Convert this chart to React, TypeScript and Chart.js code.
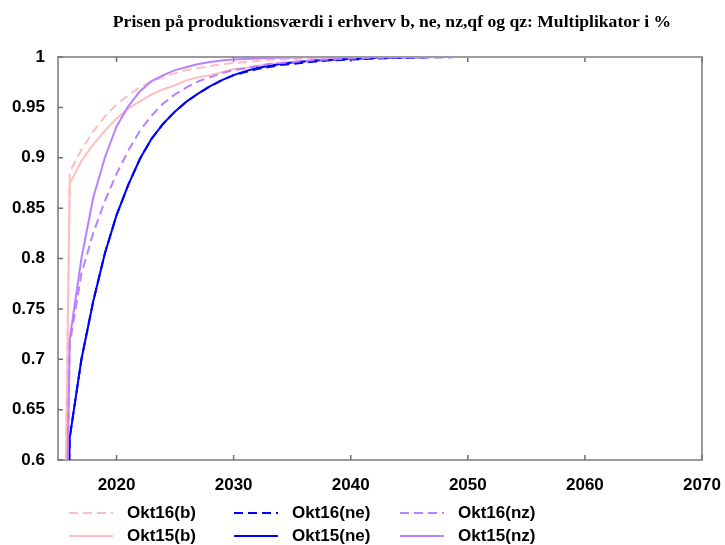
import { useEffect, useRef } from "react";
import { Chart, registerables } from "chart.js";

Chart.register(...registerables);

const titleText =
  "Prisen på produktionsværdi i erhverv b, ne, nz,qf og qz: Multiplikator i %";

const years = [
  2015, 2016, 2017, 2018, 2019, 2020, 2021, 2022, 2023, 2024, 2025, 2026, 2027,
  2028, 2029, 2030, 2031, 2032, 2033, 2034, 2035, 2036, 2037, 2038, 2039, 2040,
  2041, 2042, 2043, 2044, 2045, 2046, 2047, 2048, 2049, 2050, 2051, 2052, 2053,
  2054, 2055, 2056, 2057, 2058, 2059, 2060, 2061, 2062, 2063, 2064, 2065, 2066,
  2067, 2068, 2069, 2070,
];

const okt16b = [
  0, 0.886, 0.908, 0.926, 0.941, 0.953, 0.962, 0.97, 0.976, 0.98, 0.984, 0.987,
  0.989, 0.991, 0.993, 0.994, 0.995, 0.996, 0.997, 0.9975, 0.998, 0.9985,
  0.9988, 0.999, 0.9993, 0.9995, 0.9996, 0.9997, 0.9998, 0.9999, 1, 1, 1, 1, 1,
  1, 1, 1, 1, 1, 1, 1, 1, 1, 1, 1, 1, 1, 1, 1, 1, 1, 1, 1, 1, 1,
];

const okt16ne = [
  0, 0.622, 0.7, 0.757, 0.805, 0.843, 0.873, 0.899, 0.919, 0.934, 0.946, 0.956,
  0.964, 0.971, 0.977, 0.982, 0.985, 0.988, 0.99, 0.992, 0.993, 0.9945,
  0.9955, 0.9965, 0.997, 0.9975, 0.998, 0.9985, 0.9988, 0.999, 0.9993, 0.9995,
  0.9997, 0.9998, 0.9999, 1, 1, 1, 1, 1, 1, 1, 1, 1, 1, 1, 1, 1, 1, 1, 1, 1, 1,
  1, 1, 1,
];

const okt16nz = [
  0, 0.715, 0.785, 0.825, 0.857, 0.884, 0.907, 0.927, 0.942, 0.954, 0.963,
  0.97, 0.976, 0.98, 0.984, 0.987, 0.989, 0.991, 0.993, 0.994, 0.995, 0.996,
  0.997, 0.9975, 0.998, 0.9985, 0.999, 0.9992, 0.9994, 0.9996, 0.9997, 0.9998,
  0.9999, 0.9999, 1, 1, 1, 1, 1, 1, 1, 1, 1, 1, 1, 1, 1, 1, 1, 1, 1, 1, 1, 1,
  1, 1,
];

const okt15b = [
  0, 0.874, 0.897, 0.913, 0.927, 0.939, 0.949, 0.956, 0.963, 0.968, 0.972,
  0.977, 0.98, 0.982, 0.985, 0.988, 0.989, 0.991, 0.993, 0.994, 0.995, 0.996,
  0.997, 0.9975, 0.998, 0.9985, 0.9988, 0.999, 0.9993, 0.9995, 0.9997, 0.9998,
  0.9999, 0.9999, 1, 1, 1, 1, 1, 1, 1, 1, 1, 1, 1, 1, 1, 1, 1, 1, 1, 1, 1, 1,
  1, 1,
];

const okt15ne = [
  0, 0.622, 0.7, 0.757, 0.805, 0.843, 0.873, 0.899, 0.919, 0.934, 0.946, 0.956,
  0.964, 0.971, 0.977, 0.982, 0.986, 0.989, 0.991, 0.993, 0.9945, 0.9955,
  0.9965, 0.997, 0.9975, 0.998, 0.9985, 0.999, 0.9993, 0.9995, 0.9997, 0.9998,
  0.9999, 1, 1, 1, 1, 1, 1, 1, 1, 1, 1, 1, 1, 1, 1, 1, 1, 1, 1, 1, 1, 1, 1, 1,
];

const okt15nz = [
  0, 0.72, 0.8, 0.86, 0.9, 0.931, 0.951, 0.966, 0.976, 0.982, 0.987, 0.99,
  0.993, 0.995, 0.9965, 0.9975, 0.998, 0.9985, 0.999, 0.9993, 0.9995, 0.9997,
  0.9998, 0.9999, 1, 1, 1, 1, 1, 1, 1, 1, 1, 1, 1, 1, 1, 1, 1, 1, 1, 1, 1, 1, 1,
  1, 1, 1, 1, 1, 1, 1, 1, 1, 1, 1,
];

const seriesLabels = [
  "Okt16(b)",
  "Okt16(ne)",
  "Okt16(nz)",
  "Okt15(b)",
  "Okt15(ne)",
  "Okt15(nz)",
];
const seriesValues = [okt16b, okt16ne, okt16nz, okt15b, okt15ne, okt15nz];
const seriesColors = [
  "rgb(255,190,190)",
  "rgb(0,0,255)",
  "rgb(185,128,255)",
  "rgb(255,190,190)",
  "rgb(0,0,255)",
  "rgb(185,128,255)",
];
const seriesDashed = [true, true, true, false, false, false];
const seriesOrder = [5, 3, 1, 4, 2, 0];

const xTickValues = [2020, 2030, 2040, 2050, 2060, 2070];
const yTickValues = [0.6, 0.65, 0.7, 0.75, 0.8, 0.85, 0.9, 0.95, 1];

const SANS = "'Liberation Sans', Arial, sans-serif";
const SERIF = "'Liberation Serif', 'Times New Roman', serif";

const framePlugin = {
  id: "frameTicks",
  beforeDatasetsDraw(chart: any) {
    const { ctx, chartArea: a, scales } = chart;
    ctx.save();
    ctx.strokeStyle = "#9a9a9a";
    ctx.lineWidth = 2;
    ctx.strokeRect(a.left, a.top, a.right - a.left, a.bottom - a.top);
    ctx.strokeStyle = "#707070";
    ctx.lineWidth = 1.5;
    ctx.beginPath();
    for (const v of yTickValues) {
      const y = scales.y.getPixelForValue(v);
      ctx.moveTo(a.left, y);
      ctx.lineTo(a.left + 5, y);
    }
    for (const v of xTickValues) {
      const x = scales.x.getPixelForValue(v);
      ctx.moveTo(x, a.bottom);
      ctx.lineTo(x, a.bottom - 5);
      ctx.moveTo(x, a.top);
      ctx.lineTo(x, a.top + 5);
    }
    ctx.stroke();
    ctx.restore();
  },
};

const titleLegendPlugin = {
  id: "titleLegend",
  afterDraw(chart: any) {
    const { ctx } = chart;
    ctx.save();
    ctx.fillStyle = "#000";
    ctx.font = `bold 17.6px ${SERIF}`;
    ctx.textAlign = "center";
    ctx.textBaseline = "alphabetic";
    ctx.fillText(titleText, 392, 27);

    const colX = [69, 234, 400];
    const rowY = [513, 536];
    ctx.font = `bold 17px ${SANS}`;
    ctx.textAlign = "left";
    ctx.textBaseline = "middle";
    chart.data.datasets.forEach((ds: any, i: number) => {
      const x = colX[i % 3];
      const y = rowY[Math.floor(i / 3)];
      ctx.save();
      ctx.strokeStyle = ds.borderColor;
      ctx.lineWidth = 2;
      ctx.setLineDash(ds.borderDash || []);
      ctx.beginPath();
      ctx.moveTo(x, y);
      ctx.lineTo(x + 44, y);
      ctx.stroke();
      ctx.restore();
      ctx.fillStyle = "#000";
      ctx.fillText(ds.label, x + 58, y);
    });
    ctx.restore();
  },
};

export default function App() {
  const ref = useRef<HTMLCanvasElement | null>(null);

  useEffect(() => {
    document.body.style.margin = "0";
    if (!ref.current) return;
    const datasets = seriesLabels.map((label, i) => ({
      label,
      data: years.map((yr, j) => ({ x: yr, y: seriesValues[i][j] })),
      borderColor: seriesColors[i],
      backgroundColor: seriesColors[i],
      borderWidth: 2,
      borderDash: seriesDashed[i] ? [9, 5] : [],
      pointRadius: 0,
      tension: 0,
      fill: false,
      order: seriesOrder[i],
    }));

    const chart = new Chart(ref.current, {
      type: "line",
      data: { datasets },
      options: {
        animation: false,
        responsive: false,
        layout: { padding: { top: 57, right: 23, bottom: 50, left: 0 } },
        plugins: {
          legend: { display: false },
          title: { display: false },
          tooltip: { enabled: false },
        },
        scales: {
          x: {
            type: "linear",
            min: 2015,
            max: 2070,
            grid: { display: false, drawTicks: true, tickLength: 15 },
            border: { display: false },
            afterBuildTicks: (s: any) => {
              s.ticks = xTickValues.map((v) => ({ value: v }));
            },
            afterFit: (s: any) => {
              s.height = 35;
            },
            ticks: {
              padding: 0,
              color: "#000",
              font: { family: SANS, size: 17, weight: "bold" },
              maxRotation: 0,
              autoSkip: false,
              callback: (v: any) => String(v),
            },
          },
          y: {
            type: "linear",
            min: 0.6,
            max: 1,
            grid: { display: false, drawTicks: true, tickLength: 13 },
            border: { display: false },
            afterBuildTicks: (s: any) => {
              s.ticks = yTickValues.map((v) => ({ value: v }));
            },
            afterFit: (s: any) => {
              s.width = 58;
            },
            ticks: {
              padding: 0,
              color: "#000",
              font: { family: SANS, size: 17, weight: "bold" },
              autoSkip: false,
              callback: (v: any) => String(Math.round(Number(v) * 100) / 100),
            },
          },
        },
      },
      plugins: [framePlugin, titleLegendPlugin],
    } as any);

    return () => chart.destroy();
  }, []);

  return (
    <div style={{ width: 725, height: 545 }}>
      <canvas ref={ref} width={725} height={545} style={{ display: "block" }} />
    </div>
  );
}
